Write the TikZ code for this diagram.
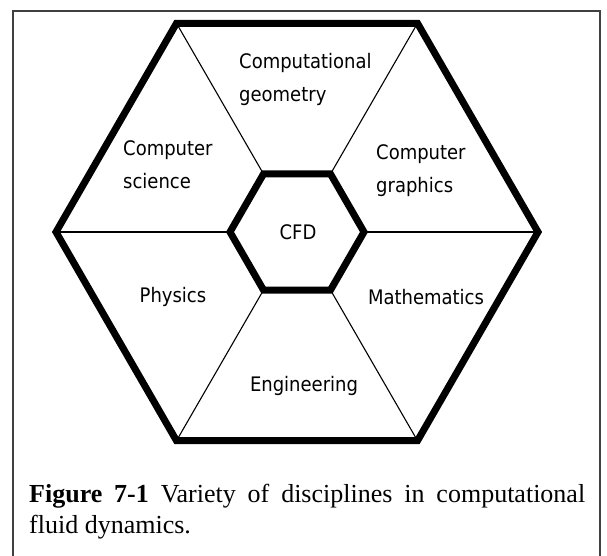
\documentclass[tikz,border=0pt]{standalone}
\usepackage{fontspec}
\usetikzlibrary{calc}
\setmainfont{Liberation Serif}
\newfontfamily\labelfont{DejaVu Sans Condensed}
\begin{document}
\begin{tikzpicture}[x=1pt,y=-1pt,
  thickline/.style={line width=7pt,line join=miter},
  innerline/.style={line width=7pt,line join=miter},
  spoke/.style={line width=1.1pt},
  framestyle/.style={line width=1.2pt,draw=black!75},
  lbl/.style={font=\labelfont\fontsize{20}{33}\selectfont,inner sep=0pt,align=left},
  captionstyle/.style={font=\fontsize{26}{31}\selectfont,inner sep=0pt,anchor=north west,align=left}]
\useasboundingbox (0,0) rectangle (607,556);
\draw[framestyle] (13,560) -- (13,11) -- (600,11) -- (600,560);
\coordinate (C) at (297,232);
\foreach \i/\a in {1/0,2/60,3/120,4/180,5/240,6/300}{
  \coordinate (O\i) at ($(C)+(\a:241)$);
  \coordinate (I\i) at ($(C)+(\a:67)$);
}
\foreach \i in {1,...,6}{ \draw[spoke] (I\i) -- (O\i); }
\draw[thickline] (O1) -- (O2) -- (O3) -- (O4) -- (O5) -- (O6) -- cycle;
\draw[innerline] (I1) -- (I2) -- (I3) -- (I4) -- (I5) -- (I6) -- cycle;
\node[lbl,anchor=west] (geo) at (239,79) {Computational\\geometry};
\node[lbl,anchor=west] (cs) at (123,165) {Computer\\science};
\node[lbl,anchor=west] (cg) at (376,171) {Computer\\graphics};
\node[lbl] (cfd) at (298,232) {CFD};
\node[lbl] (phy) at (173,297) {Physics};
\node[lbl] (math) at (426,297) {Mathematics};
\node[lbl] (eng) at (304,386) {Engineering};
\node[captionstyle] (caption) at (29,484) {\makebox[556pt][s]{\textbf{Figure 7-1} Variety of disciplines in computational}\\fluid dynamics.};
\end{tikzpicture}
\end{document}
